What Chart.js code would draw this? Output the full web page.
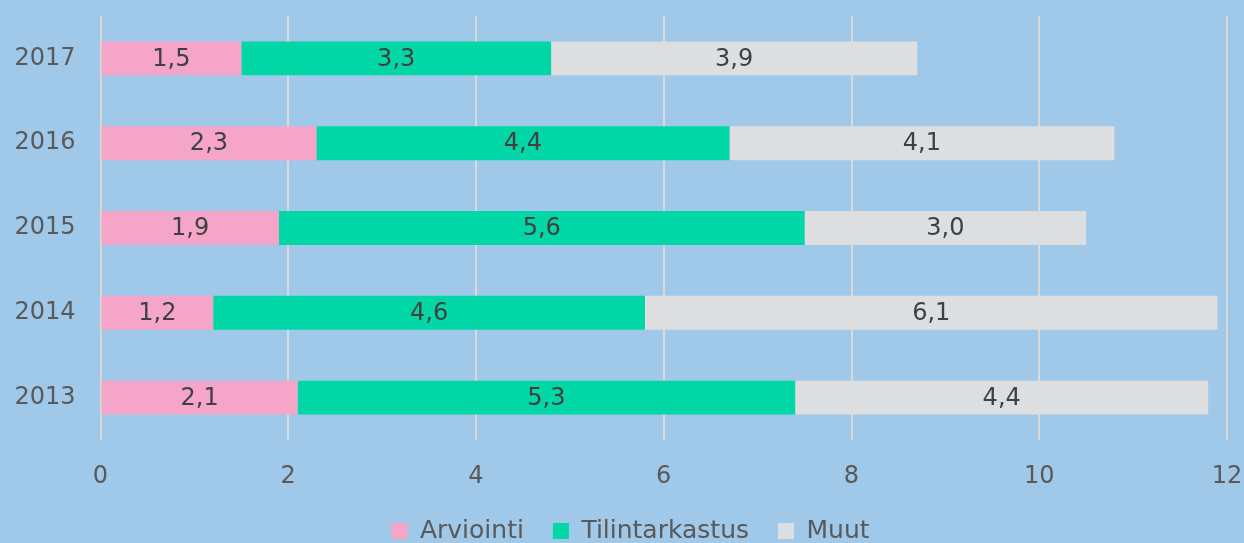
<!DOCTYPE html>
<html>
<head>
<meta charset="utf-8">
<script src="https://cdn.jsdelivr.net/npm/chart.js@4/dist/chart.umd.min.js"></script>
<style>
  html, body { margin: 0; padding: 0; background: #A0C8E8; }
  #wrap { width: 1244px; height: 543px; position: relative; }
</style>
</head>
<body>
<div id="wrap"><canvas id="c" width="1244" height="543"></canvas></div>
<script>
const categories = ['2017', '2016', '2015', '2014', '2013'];
const arviointi = [1.5, 2.3, 1.9, 1.2, 2.1];
const tilintarkastus = [3.3, 4.4, 5.6, 4.6, 5.3];
const muut = [3.9, 4.1, 3.0, 6.1, 4.4];
const seriesNames = ['Arviointi', 'Tilintarkastus', 'Muut'];
const xTicks = [0, 2, 4, 6, 8, 10, 12];

const FONT = '"DejaVu Sans", Verdana, sans-serif';
const TEXT = '#595959';

const barLabels = {
  id: 'barLabels',
  afterDatasetsDraw(chart) {
    const ctx = chart.ctx;
    ctx.save();
    ctx.font = '24px ' + FONT;
    ctx.fillStyle = '#404040';
    ctx.textAlign = 'center';
    ctx.textBaseline = 'middle';
    chart.data.datasets.forEach((ds, i) => {
      const meta = chart.getDatasetMeta(i);
      meta.data.forEach((bar, j) => {
        const v = ds.data[j];
        const p = bar.getProps(['x', 'y', 'base'], true);
        const cx = (p.x + p.base) / 2;
        ctx.fillText(v.toFixed(1).replace('.', ','), cx, p.y + 1);
      });
    });
    ctx.restore();
  }
};

const bgPlugin = {
  id: 'bg',
  beforeDraw(chart) {
    const ctx = chart.ctx;
    ctx.save();
    ctx.fillStyle = '#A0C8E8';
    ctx.fillRect(0, 0, chart.width, chart.height);
    ctx.restore();
  }
};

const legendShift = {
  id: 'legendShift',
  afterLayout(chart) {
    const lg = chart.legend;
    if (lg) { lg.left += 17; lg.right += 17; }
  }
};

new Chart(document.getElementById('c'), {
  type: 'bar',
  data: {
    labels: categories,
    datasets: [
      { label: seriesNames[0], data: arviointi, backgroundColor: '#F5A5C8' },
      { label: seriesNames[1], data: tilintarkastus, backgroundColor: '#00D6A6' },
      { label: seriesNames[2], data: muut, backgroundColor: '#DCDEE0' }
    ]
  },
  options: {
    indexAxis: 'y',
    responsive: false,
    animation: false,
    devicePixelRatio: 1,
    categoryPercentage: 0.8,
    barPercentage: 0.5,
    layout: { padding: { top: 16, right: 17, left: 0, bottom: -10.5 } },
    scales: {
      x: {
        stacked: true,
        min: 0, max: 12,
        afterBuildTicks(scale) { scale.ticks = xTicks.map(v => ({ value: v })); },
        afterFit(scale) {
          scale.height = 49.5;
          scale.paddingLeft = 0; scale.paddingRight = 0;
          scale.paddingTop = 0; scale.paddingBottom = 0;
        },
        grid: { color: '#D9D9D9', lineWidth: 2, drawTicks: false },
        border: { display: false },
        ticks: { color: TEXT, font: { family: FONT, size: 24 }, padding: 22 }
      },
      y: {
        stacked: true,
        afterFit(scale) {
          scale.width = 100.5;
          scale.paddingLeft = 0; scale.paddingRight = 0;
          scale.paddingTop = 0; scale.paddingBottom = 0;
        },
        grid: { display: false, drawTicks: false },
        border: { display: false },
        ticks: { color: TEXT, font: { family: FONT, size: 24 }, padding: 25 }
      }
    },
    plugins: {
      legend: {
        position: 'bottom',
        labels: {
          color: TEXT,
          font: { family: FONT, size: 25 },
          boxWidth: 16, boxHeight: 16,
          padding: 29
        }
      },
      tooltip: { enabled: false }
    }
  },
  plugins: [bgPlugin, barLabels, legendShift]
});
</script>
</body>
</html>
